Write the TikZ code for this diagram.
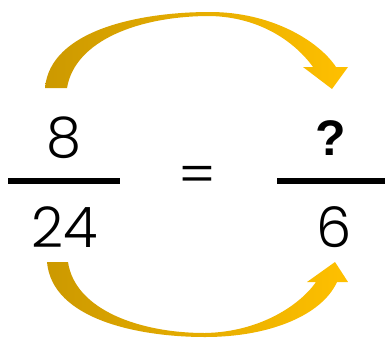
\documentclass[tikz,border=0pt]{standalone}
\usepackage{fontspec}
\setmainfont{Poppins}[UprightFont={* Light}, BoldFont={* Bold}]
\newfontfamily\qfont{Liberation Sans}
\definecolor{arrowGold}{RGB}{255,192,0}
\definecolor{arrowDark}{RGB}{204,153,0}

\begin{document}
\begin{tikzpicture}[x=1pt, y=-1pt,
      num/.style={font=\fontsize{56}{56}\selectfont, inner sep=0pt},
      bar/.style={line width=6pt},
      ribbon/.style={left color=arrowDark, right color=arrowGold}]
  \useasboundingbox (0,0) rectangle (385,340);
  % curved arrows
  \shade[ribbon] (45,88) .. controls (50,30) and (140,12) .. (210,12)
        .. controls (270,12) and (318,40) .. (336,67)
        -- (348,67) -- (332,89) -- (303,67) -- (313,67)
        .. controls (295,42) and (260,17) .. (210,16)
        .. controls (140,16) and (75,40) .. (67,88) -- cycle;
  \shade[ribbon] (47,262) .. controls (52,320) and (140,337) .. (205,337)
        .. controls (270,337) and (322,315) .. (337,282)
        -- (348,282) -- (335,262) -- (307,282) -- (316,282)
        .. controls (300,305) and (260,332) .. (205,333)
        .. controls (140,333) and (75,310) .. (68,262) -- cycle;
  % fractions
  \node[num] (eight) at (64,138) {8};
  \node[num] (twentyfour) at (65,227) {24};
  \node[num] (equals) at (197,180) {=};
  \node[num, font=\fontsize{50}{50}\selectfont\qfont\bfseries] (unknown) at (331,138) {?};
  \node[num] (six) at (334,227) {6};
  \draw[bar] (8,181) -- (120,181);
  \draw[bar] (277,181) -- (385,181);
\end{tikzpicture}
\end{document}
